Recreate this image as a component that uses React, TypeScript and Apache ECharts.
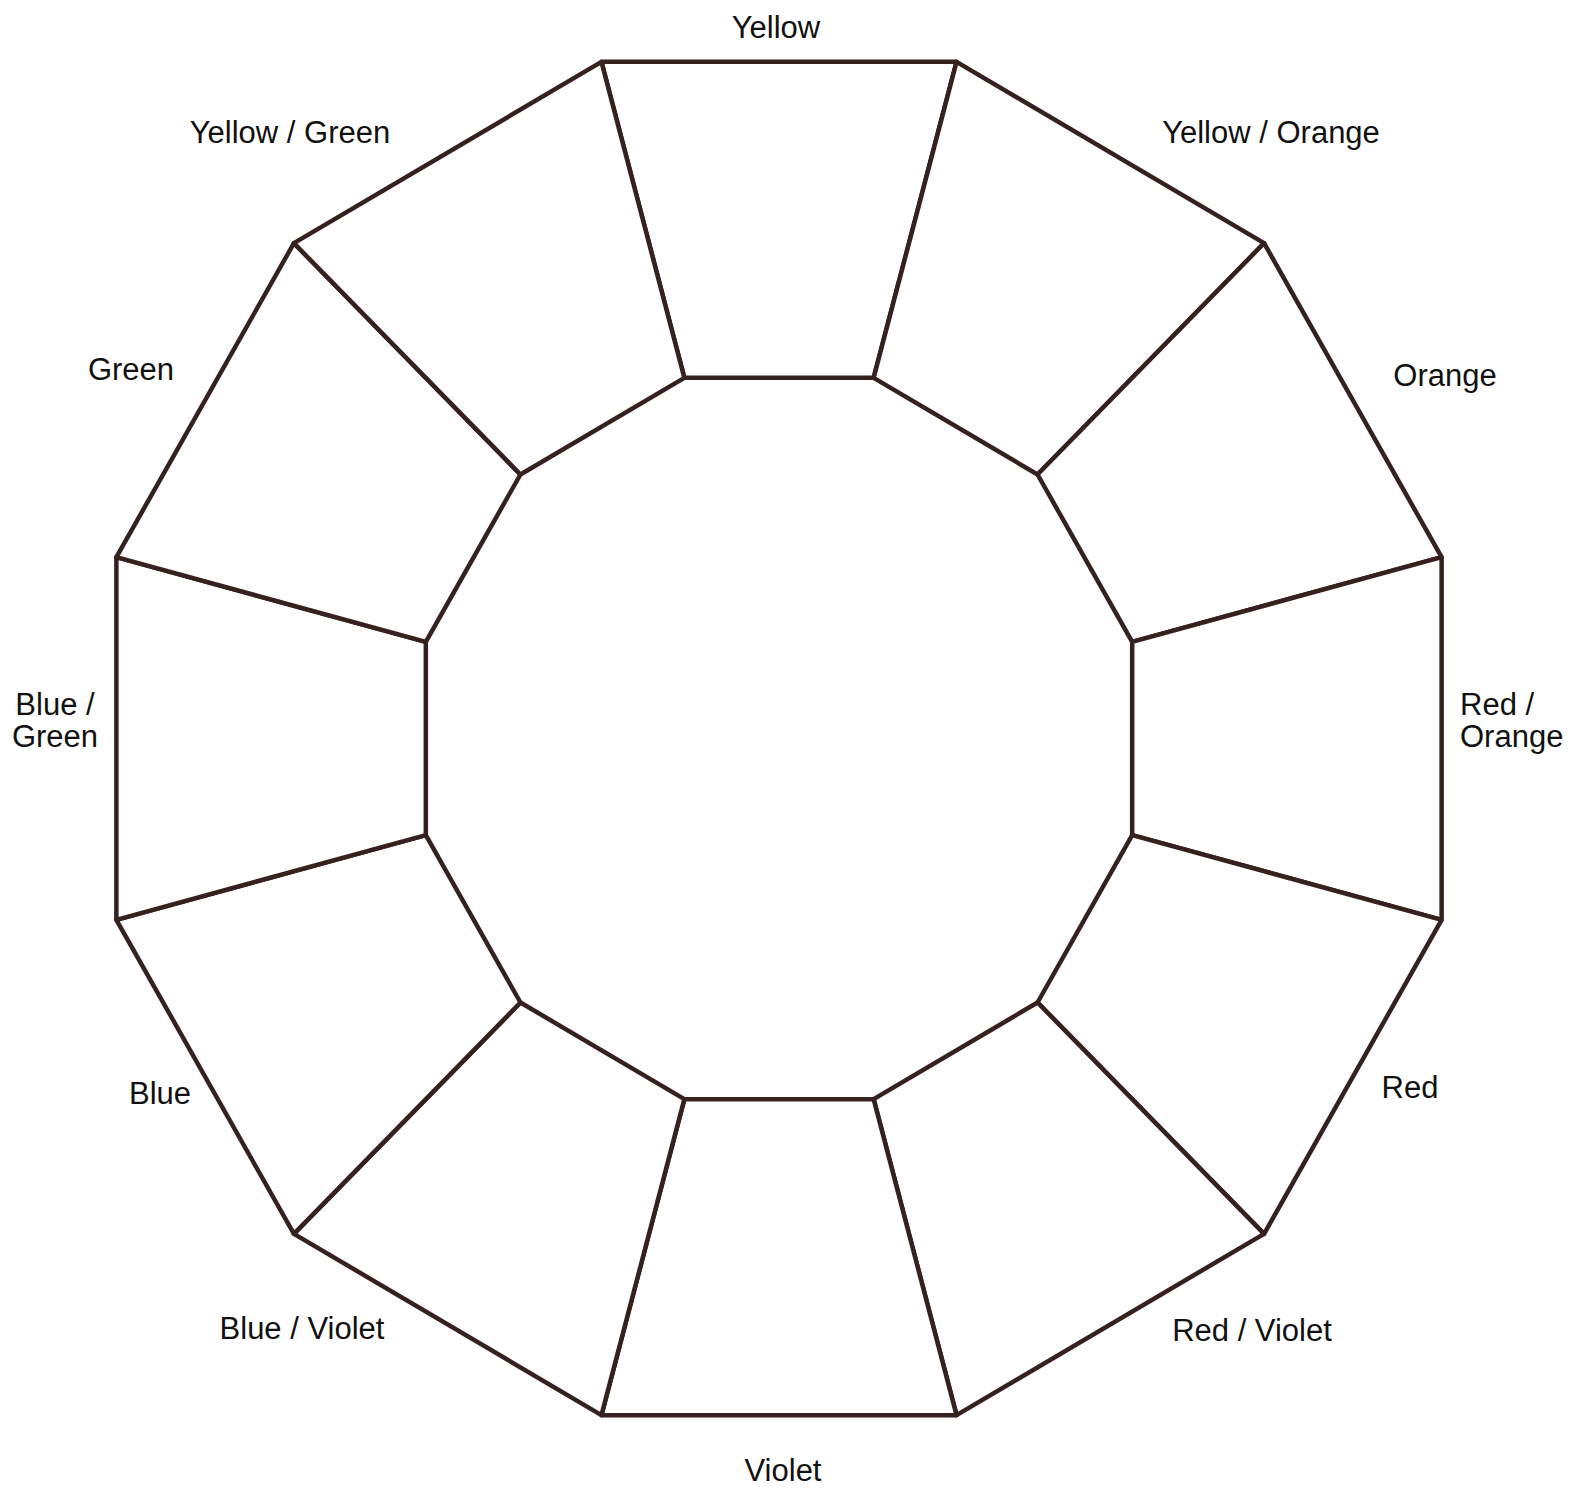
import React, { useEffect, useRef } from "react";
import * as echarts from "echarts";

// Colour wheel segments, clockwise from the top
const colorNames = [
  "Yellow",
  "Yellow / Orange",
  "Orange",
  "Red / Orange",
  "Red",
  "Red / Violet",
  "Violet",
  "Blue / Violet",
  "Blue",
  "Blue / Green",
  "Green",
  "Yellow / Green",
];
// ring radii (outer radius = 1)
const innerRadius = [0.533];
const outerRadius = [1];

// label layout (pixel positions)
const labelText = [
  "Yellow",
  "Yellow / Orange",
  "Orange",
  "Red /\nOrange",
  "Red",
  "Red / Violet",
  "Violet",
  "Blue / Violet",
  "Blue",
  "Blue /\nGreen",
  "Green",
  "Yellow / Green",
];
const labelX = [776, 1271, 1445, 1460, 1410, 1252, 783, 302, 160, 55, 131, 290];
const labelY = [27, 132, 375, 720, 1087, 1330, 1470, 1328, 1093, 720, 369, 132];
const labelAlign = ["center", "center", "center", "left", "center", "center", "center", "center", "center", "center", "center", "center"];

const LINE = "#35221f";

export default function App() {
  const ref = useRef<HTMLDivElement>(null);
  useEffect(() => {
    if (!ref.current) return;
    const chart = echarts.init(ref.current, null, { renderer: "svg" });
    const n = colorNames.length;
    const step = 360 / n;
    const data = colorNames.map((name, i) => ({
      name,
      value: [i, innerRadius[0], outerRadius[0]],
    }));
    chart.setOption({
      animation: false,
      backgroundColor: "#ffffff",
      grid: { left: 93, right: 105, top: 38, bottom: 49 },
      xAxis: { type: "value", min: -1, max: 1, show: false },
      yAxis: { type: "value", min: -1, max: 1, show: false },
      series: [
        {
          type: "custom",
          coordinateSystem: "cartesian2d",
          data,
          renderItem: (params: any, api: any) => {
            const i = api.value(0);
            const rIn = api.value(1);
            const rOut = api.value(2);
            const c = 90 - i * step;
            const a1 = ((c + step / 2) * Math.PI) / 180;
            const a2 = ((c - step / 2) * Math.PI) / 180;
            const pt = (r: number, a: number) => api.coord([r * Math.cos(a), r * Math.sin(a)]);
            return {
              type: "polygon",
              shape: { points: [pt(rOut, a1), pt(rOut, a2), pt(rIn, a2), pt(rIn, a1)] },
              style: { fill: "#ffffff", stroke: LINE, lineWidth: 4.5, lineJoin: "round" },
            };
          },
        },
      ],
      graphic: labelText.map((t, i) => ({
        type: "text",
        x: labelX[i],
        y: labelY[i],
        style: {
          text: t,
          fill: "#111111",
          font: '31px "Liberation Sans", Arial, sans-serif',
          align: labelAlign[i],
          verticalAlign: "middle",
          lineHeight: 32,
        },
      })),
    });
    return () => chart.dispose();
  }, []);
  return (
    <div
      ref={ref}
      style={{ position: "fixed", left: 0, top: 0, width: 1570, height: 1488 }}
    />
  );
}
